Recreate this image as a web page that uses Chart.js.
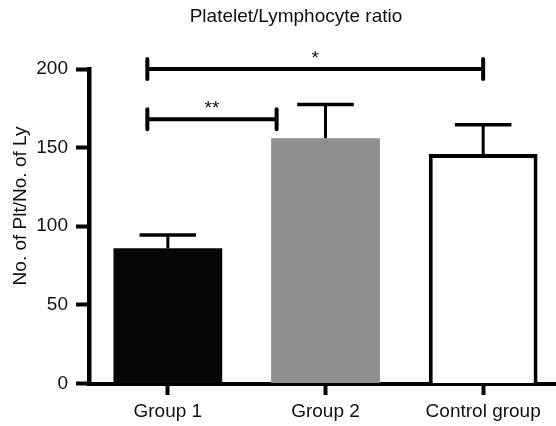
<!DOCTYPE html>
<html>
<head>
<meta charset="utf-8">
<script src="https://cdn.jsdelivr.net/npm/chart.js@4/dist/chart.umd.min.js"></script>
<style>
    html, body { margin: 0; padding: 0; background: #fff; overflow: hidden; }
    /* the plot runs off the right edge in the original, so the canvas is a bit wider and clipped */
    #wrap { width: 556px; height: 426px; overflow: hidden; }
</style>
</head>
<body>
<div id="wrap"><canvas id="plrChart" width="562" height="426"></canvas></div>
<script>
const chartTitle = "Platelet/Lymphocyte ratio";
const yTitle = "No. of Plt/No. of Ly";
const groups = ["Group 1", "Group 2", "Control group"];
const meanRatio = [86, 156, 146];
const errorUp = [8.5, 21.5, 18.5];
const yTicks = [0, 50, 100, 150, 200];

// significance brackets, in category units along x and ratio units along y
const bracketFrom = [-0.13, -0.13];
const bracketTo = [2, 0.69];
const bracketLevel = [200, 168];
const bracketMarks = ["*", "**"];

const FONT = "Liberation Sans, Arial, Helvetica, sans-serif";
const INK = "#111111";

// error bars, brackets and the two titles
const marksPlugin = {
    id: "marks",
    afterDatasetsDraw(chart) {
        const ctx = chart.ctx;
        const xs = chart.scales.x;
        const ys = chart.scales.y;
        const bars = chart.getDatasetMeta(0).data;

        ctx.save();
        ctx.strokeStyle = "#000";

        // error bars (upper only)
        bars.forEach((bar, i) => {
            const top = ys.getPixelForValue(meanRatio[i]);
            const cap = ys.getPixelForValue(meanRatio[i] + errorUp[i]);
            const half = bar.width * 0.26;
            ctx.lineWidth = 3;
            ctx.beginPath();
            ctx.moveTo(bar.x, top);
            ctx.lineTo(bar.x, cap);
            ctx.stroke();
            ctx.lineWidth = 3.5;
            ctx.beginPath();
            ctx.moveTo(bar.x - half, cap);
            ctx.lineTo(bar.x + half, cap);
            ctx.stroke();
        });

        // brackets
        ctx.font = "19px " + FONT;
        ctx.fillStyle = INK;
        ctx.textAlign = "center";
        ctx.textBaseline = "alphabetic";
        bracketLevel.forEach((lvl, i) => {
            const y = ys.getPixelForValue(lvl);
            const x1 = xs.getPixelForValue(bracketFrom[i]);
            const x2 = xs.getPixelForValue(bracketTo[i]);
            ctx.lineWidth = 4;
            ctx.lineCap = "butt";
            ctx.beginPath();
            ctx.moveTo(x1, y);
            ctx.lineTo(x2, y);
            ctx.stroke();
            ctx.lineCap = "round";
            [x1, x2].forEach(x => {
                ctx.beginPath();
                ctx.moveTo(x, y - 10);
                ctx.lineTo(x, y + 10);
                ctx.stroke();
            });
            ctx.fillText(bracketMarks[i], (x1 + x2) / 2, y - 5);
        });
        ctx.restore();
    },
    afterDraw(chart) {
        const ctx = chart.ctx;
        ctx.save();
        ctx.fillStyle = INK;
        ctx.font = "19px " + FONT;
        ctx.textAlign = "center";
        ctx.textBaseline = "middle";
        ctx.fillText(chartTitle, 296, 17);

        ctx.translate(21, 206);
        ctx.rotate(-Math.PI / 2);
        ctx.fillText(yTitle, 0, 0);
        ctx.restore();
    }
};

document.addEventListener("DOMContentLoaded", () => {
    const ctx = document.getElementById("plrChart").getContext("2d");

    new Chart(ctx, {
        type: "bar",
        data: {
            labels: groups,
            datasets: [{
                data: meanRatio,
                backgroundColor: ["#060606", "#8f8f8f", "#ffffff"],
                borderColor: ["#060606", "#8f8f8f", "#000000"],
                borderWidth: [0, 0, 4],
                borderSkipped: "start",
                barPercentage: 0.69,
                categoryPercentage: 1
            }]
        },
        options: {
            responsive: false,
            animation: false,
            layout: {
                padding: { top: 69, right: 0, bottom: 0, left: 0 }
            },
            scales: {
                x: {
                    afterFit: (scale) => { scale.height = 42.5; },
                    grid: {
                        display: true,
                        offset: false,
                        drawOnChartArea: false,
                        drawTicks: true,
                        tickLength: 11.5,
                        tickWidth: 4,
                        tickColor: "#000"
                    },
                    border: { display: true, color: "#000", width: 4 },
                    ticks: {
                        color: INK,
                        padding: 5,
                        font: { family: FONT, size: 19 }
                    }
                },
                y: {
                    min: 0,
                    max: 200,
                    afterFit: (scale) => { scale.width = 89; },
                    afterBuildTicks: (scale) => {
                        scale.ticks = yTicks.map(v => ({ value: v }));
                    },
                    grid: {
                        display: true,
                        drawOnChartArea: false,
                        drawTicks: true,
                        tickLength: 13,
                        tickWidth: 4,
                        tickColor: "#000"
                    },
                    border: { display: true, color: "#000", width: 4.5 },
                    ticks: {
                        color: INK,
                        padding: 8,
                        font: { family: FONT, size: 19 }
                    }
                }
            },
            plugins: {
                legend: { display: false },
                title: { display: false },
                tooltip: { enabled: false }
            }
        },
        plugins: [marksPlugin]
    });
});
</script>
</body>
</html>
